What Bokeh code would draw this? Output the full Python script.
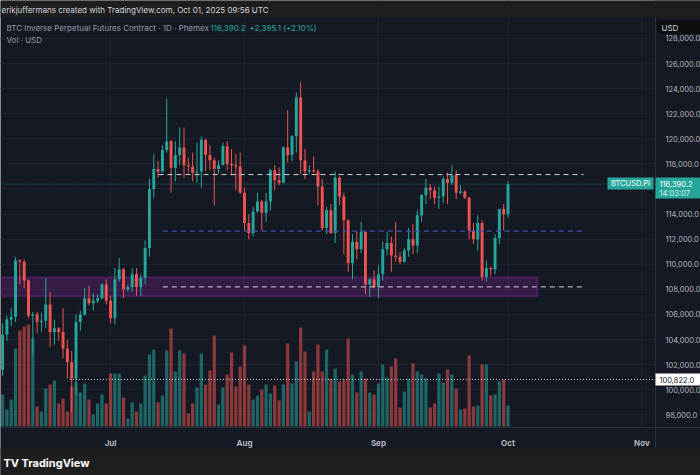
import pandas as pd
from bokeh.plotting import figure
from bokeh.models import (Range1d, FixedTicker, NumeralTickFormatter, DatetimeTickFormatter,
                          BoxAnnotation, Label, ColumnDataSource)
from bokeh.embed import file_html
from bokeh.resources import INLINE

# ---------------- data (BTCUSD.PI daily, thousands of USD) ----------------
dates = pd.date_range("2025-06-05", "2025-10-01", freq="D")

open_k = [104.7, 101.6, 104.4, 105.6, 105.8, 110.3, 110.2, 108.7, 105.9, 106.0, 105.4, 105.5, 106.8,
          104.6, 104.9, 104.6, 103.3, 102.2, 100.9, 105.4, 106.0, 107.3, 106.9, 107.1, 107.3, 108.4,
          107.1, 105.7, 108.8, 109.6, 108.0, 108.2, 109.2, 108.2, 108.9, 111.3, 116.0, 117.6, 117.4,
          119.1, 119.8, 117.7, 118.7, 119.3, 117.9, 117.8, 117.3, 117.4, 119.9, 118.7, 118.3, 117.6,
          117.9, 119.4, 118.0, 117.9, 117.8,
          115.7, 113.3, 112.5, 114.2, 115.0, 114.1, 115.0, 117.5, 116.7, 116.5, 119.3, 118.7, 120.2,
          123.3, 118.3, 117.4, 117.5, 117.4, 116.2, 112.9, 114.3, 112.5, 116.9, 115.4, 113.5, 110.1,
          111.8, 111.2, 112.6, 108.4, 108.8,
          108.2, 109.2, 111.2, 111.7, 110.7, 110.6, 110.2, 111.1, 112.0, 111.5, 113.9, 115.5, 116.1,
          115.9, 115.3, 115.4, 116.8, 116.5, 117.1, 115.7, 115.8, 115.3, 112.7, 112.0, 113.3, 109.0,
          109.7, 109.6, 112.1, 114.4,
          113.995]
high_k = [105.9, 105.3, 105.9, 106.5, 110.6, 110.4, 110.4, 108.8, 106.2, 106.2, 106.1, 108.9, 107.8,
          105.6, 105.0, 106.5, 104.0, 103.1, 106.0, 106.3, 108.1, 108.3, 107.7, 107.6, 108.5, 108.8,
          107.5, 109.7, 110.5, 109.7, 108.4, 109.7, 109.7, 109.2, 111.9, 116.8, 118.8, 118.2, 119.5,
          123.2, 119.9, 119.8, 120.9, 120.9, 118.5, 118.9, 119.7, 120.2, 120.0, 119.5, 118.5, 118.3,
          119.7, 119.8, 119.2, 118.8, 118.9,
          116.1, 114.0, 114.6, 115.7, 115.1, 115.7, 117.6, 117.9, 117.7, 119.4, 122.3, 120.3, 123.7,
          124.5, 119.2, 117.9, 118.6, 117.6, 116.8, 114.6, 114.8, 117.4, 117.0, 115.7, 113.6, 112.4,
          112.6, 113.4, 112.6, 108.9, 109.5,
          109.9, 111.8, 112.6, 112.2, 113.4, 111.0, 111.3, 112.9, 113.2, 114.3, 115.6, 116.8, 116.4,
          116.2, 116.2, 117.0, 117.3, 117.9, 117.5, 116.3, 115.9, 115.4, 113.3, 113.9, 113.5, 110.3,
          109.8, 112.4, 114.4, 114.8,
          116.6]
low_k = [100.4, 101.1, 103.9, 105.1, 105.4, 108.4, 108.1, 105.7, 102.8, 104.5, 104.6, 104.9, 103.4,
         103.6, 103.9, 102.5, 100.9, 98.2, 99.6, 104.7, 105.9, 106.7, 106.3, 106.9, 107.2, 106.8,
         105.3, 105.2, 108.6, 107.3, 107.8, 107.8, 107.5, 107.5, 108.4, 110.6, 115.3, 116.9, 117.3,
         118.9, 115.7, 116.6, 117.9, 116.9, 117.3, 116.6, 116.5, 116.1, 117.4, 117.5, 114.7, 117.2,
         117.9, 117.5, 117.1, 115.9, 115.6,
         112.7, 112.0, 112.2, 114.1, 112.7, 113.4, 114.3, 115.9, 116.3, 116.5, 118.1, 118.2, 118.9,
         117.2, 116.8, 117.2, 117.3, 114.7, 112.7, 112.4, 112.4, 111.7, 114.7, 110.8, 109.4, 108.8,
         110.4, 110.9, 107.6, 107.4, 108.1,
         107.3, 108.7, 110.7, 109.4, 110.2, 110.0, 110.1, 110.6, 110.8, 110.9, 113.4, 114.8, 115.2,
         114.8, 114.4, 114.9, 114.8, 116.3, 115.2, 115.6, 115.2, 112.0, 111.6, 111.1, 108.7, 108.6,
         109.1, 109.2, 111.6, 112.7,
         113.7]
close_k = [101.6, 104.4, 105.6, 105.8, 110.3, 110.2, 108.7, 105.9, 106.0, 105.4, 105.5, 106.8, 104.6,
           104.9, 104.6, 103.3, 102.2, 100.9, 105.4, 106.0, 107.3, 106.9, 107.1, 107.3, 108.4, 107.1,
           105.7, 108.8, 109.6, 108.0, 108.2, 109.2, 108.2, 108.9, 111.3, 116.0, 117.6, 117.4, 119.1,
           119.8, 117.7, 118.7, 119.3, 117.9, 117.8, 117.3, 117.4, 119.9, 118.7, 118.3, 117.6, 117.9,
           119.4, 118.0, 117.9, 117.8, 115.7,
           113.3, 112.5, 114.2, 115.0, 114.1, 115.0, 117.5, 116.7, 116.5, 119.3, 118.7, 120.2, 123.3,
           118.3, 117.4, 117.5, 117.4, 116.2, 112.9, 114.3, 112.5, 116.9, 115.4, 113.5, 110.1, 111.8,
           111.2, 112.6, 108.4, 108.8, 108.2,
           109.2, 111.2, 111.7, 110.7, 110.6, 110.2, 111.1, 112.0, 111.5, 113.9, 115.5, 116.1, 115.9,
           115.3, 115.4, 116.8, 116.5, 117.1, 115.7, 115.8, 115.3, 112.7, 112.0, 113.3, 109.0, 109.7,
           109.6, 112.1, 114.4, 113.995,
           116.3902]
volume = [90, 32, 17, 27, 78, 96, 100, 102, 88, 20, 15, 38, 42, 46, 23, 28, 15, 40, 44, 34, 43, 27,
          12, 23, 32, 23,
          53, 53, 53, 29, 8, 24, 15, 23, 51, 72, 77, 24, 31, 76, 98, 55, 76, 73, 13, 23, 39, 73, 42,
          56, 91, 22, 39, 52, 74, 40, 60,
          81, 42, 27, 31, 37, 42, 33, 41, 26, 42, 83, 43, 65, 99, 75, 15, 55, 82, 55, 77, 48, 58, 45,
          47, 88, 52, 34, 55, 48, 34, 32,
          43, 62, 49, 60, 68, 19, 35, 48, 63, 55, 52, 48, 19, 23, 53, 44, 57, 52, 38, 17, 18, 71, 20,
          21, 62, 62, 31, 32, 45, 47,
          21]

price_ticks = [98000, 100000, 102000, 104000, 106000, 108000, 110000, 112000, 114000,
               118000, 120000, 122000, 124000, 126000, 128000]
grid_ticks = price_ticks + [116000]
month_starts = ["2025-07-01", "2025-08-01", "2025-09-01", "2025-10-01", "2025-11-01"]

last_price = 116390.2
ray_level = 100822.0
resistance = 117150
midline = 112650
support = 108200
zone_low, zone_high = 107450, 108950

# ---------------- colours ----------------
BG = "#151924"
UP = "#26a69a"
DN = "#ef5350"
GRID = "#1f2330"
TXT = "#b2b5be"
BAR = "#1e1e1e"
SEP = "#2a2e39"

DAY = 86400000
def ms(s):
    return pd.Timestamp(s).value // 10**6

W, H = 700, 475
PX_PER_DAY = 4.32
oct1 = ms("2025-10-01")
x_start = oct1 - 117.48 * DAY
x_end = x_start + W / PX_PER_DAY * DAY
x_axis_at = x_start + 655 / PX_PER_DAY * DAY      # price scale border
y_lo, y_hi = 93171, 131020                          # whole canvas height
y_axis_at = 96996                                   # time scale border

o = [v * 1000 for v in open_k]
h = [v * 1000 for v in high_k]
l = [v * 1000 for v in low_k]
c = [v * 1000 for v in close_k]
col = [UP if cc >= oo else DN for oo, cc in zip(o, c)]

src = ColumnDataSource(dict(date=dates, open=o, high=h, low=l, close=c, vol=volume, color=col))

p = figure(width=W, height=H, x_axis_type="datetime", y_axis_location="right",
           x_range=Range1d(x_start, x_end), y_range=Range1d(y_lo, y_hi),
           output_backend="svg", toolbar_location=None, title=None, min_border=0,
           background_fill_color=BG, border_fill_color=BG, outline_line_color=None)
p.extra_y_ranges = {"vol": Range1d(-49, 426)}

# grids
p.xgrid.ticker = FixedTicker(ticks=[ms(d) for d in month_starts])
p.ygrid.ticker = FixedTicker(ticks=grid_ticks)
p.xgrid.grid_line_color = GRID
p.ygrid.grid_line_color = GRID

def cbox(l_, r_, t_, b_, color, level="overlay"):
    return BoxAnnotation(left=l_, right=r_, top=t_, bottom=b_, left_units="canvas",
                         right_units="canvas", top_units="canvas", bottom_units="canvas",
                         fill_color=color, fill_alpha=1, line_color=None, level=level)

# blank scale strips (cover grid lines)
p.add_layout(cbox(655, 700, 0, 475, BG, level="underlay"))
p.add_layout(cbox(0, 700, 427, 475, BG, level="underlay"))

# axes (pinned inside the canvas)
ya = p.yaxis[0]
ya.fixed_location = x_axis_at
ya.ticker = FixedTicker(ticks=price_ticks)
ya.formatter = NumeralTickFormatter(format="0,0.0")
ya.major_label_text_font_size = "7.5px"
ya.major_label_text_font = "Inter"
ya.major_label_text_color = TXT
ya.major_tick_line_color = None
ya.minor_tick_line_color = None
ya.axis_line_color = SEP
ya.major_label_standoff = 4

xa = p.xaxis[0]
xa.fixed_location = y_axis_at
xa.ticker = FixedTicker(ticks=[ms(d) for d in month_starts])
fmt = "%b"
xa.formatter = DatetimeTickFormatter(milliseconds=fmt, seconds=fmt, minsec=fmt, minutes=fmt,
                                     hourmin=fmt, hours=fmt, days=fmt, months=fmt, years=fmt)
xa.major_label_text_font_size = "8px"
xa.major_label_text_font = "Inter"
xa.major_label_text_font_style = "bold"
xa.major_label_text_color = TXT
xa.major_tick_line_color = None
xa.minor_tick_line_color = None
xa.axis_line_color = SEP
xa.major_label_standoff = 5

# zone box
p.add_layout(BoxAnnotation(left=x_start - 5 * DAY, right=ms("2025-10-07") + 0.8 * DAY,
                           bottom=zone_low, top=zone_high, fill_color="#9c27b0", fill_alpha=0.24,
                           line_color="#a12fc0", line_width=2, level="underlay"))

# volume
p.vbar(x="date", width=0.75 * DAY, top="vol", bottom=0, y_range_name="vol", source=src,
       fill_color="color", fill_alpha=0.55, line_color=None)

# candles
p.segment(x0="date", y0="low", x1="date", y1="high", line_color="color", line_width=1, source=src)
p.vbar(x="date", width=0.68 * DAY, top="open", bottom="close", fill_color="color",
       line_color=None, source=src)

# horizontal drawings
lx0 = ms("2025-07-12") + 0.1 * DAY
lx1 = ms("2025-10-18") + 0.5 * DAY
p.segment(x0=[lx0], x1=[lx1], y0=[resistance], y1=[resistance], line_color="#d1d4dc",
          line_dash="5 4", line_width=1)
p.segment(x0=[lx0 + DAY], x1=[lx1], y0=[midline], y1=[midline], line_color="#3f51b5",
          line_dash="5 4", line_width=1.2)
p.segment(x0=[lx0 + DAY], x1=[lx1], y0=[support], y1=[support], line_color="#d1d4dc",
          line_dash="5 4", line_width=1)
p.segment(x0=[ms("2025-06-21") + 0.6 * DAY], x1=[x_axis_at], y0=[ray_level], y1=[ray_level],
          line_color="#d1d4dc", line_dash="1 2", line_width=1)
p.segment(x0=[x_start], x1=[x_axis_at], y0=[last_price], y1=[last_price], line_color=UP,
          line_alpha=0.75, line_dash="1 2", line_width=1)

# ---------------- screen furniture ----------------
def clabel(x, y, text, size, color, align="left", style="normal"):
    return Label(x=x, y=y, x_units="canvas", y_units="canvas", text=text, text_font="Inter",
                 text_font_size=f"{size}px", text_color=color, text_align=align,
                 text_baseline="middle", text_font_style=style, level="overlay")

for b in [cbox(0, 700, 0, 17, BAR), cbox(0, 700, 448, 475, BAR),
          cbox(657, 700, 20, 33, "#0c0d10"),
          cbox(607, 653, 177, 189, UP), cbox(655, 700, 177, 198, UP),
          cbox(655, 700, 373, 385, "#ffffff")]:
    p.add_layout(b)

labels = [
    clabel(1, 9, "erikjuffermans created with TradingView.com, Oct 01, 2025 09:56 UTC", 8, "#d1d4dc"),
    clabel(6, 27, "BTC Inverse Perpetual Futures Contract · 1D · Phemex", 8, "#9598a1"),
    clabel(210, 27, "116,390.2", 8, UP),
    clabel(249, 27, "+2,395.1 (+2.10%)", 8, UP),
    clabel(6, 39, "Vol · USD", 8, "#9598a1"),
    clabel(661, 27, "USD", 8, "#d1d4dc"),
    clabel(630, 183, "BTCUSD.PI", 7.5, "#ffffff", align="center"),
    clabel(659, 183, "116,390.2", 7.5, "#ffffff"),
    clabel(659, 192.5, "14:03:07", 7.5, "#d6f1ee"),
    clabel(659, 379, "100,822.0", 7.5, "#131722"),
    clabel(3, 462, "TV", 11, "#ffffff", style="bold"),
    clabel(21, 462, "TradingView", 11, "#ffffff", style="bold"),
]
for lb in labels:
    p.add_layout(lb)

open("out.html", "w").write(file_html(p, INLINE))
